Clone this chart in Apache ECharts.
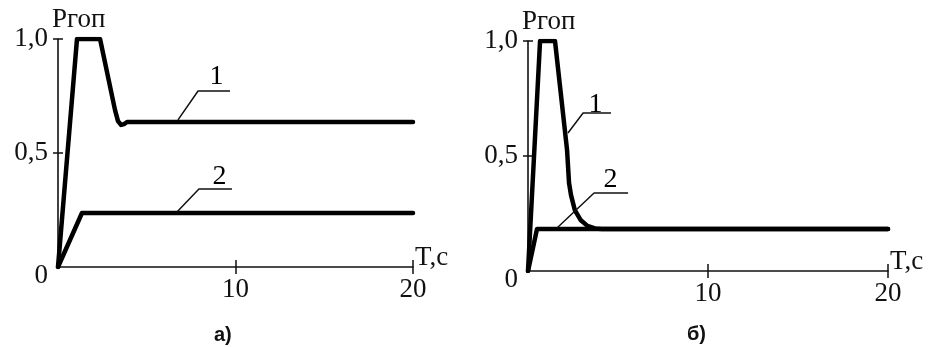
<!DOCTYPE html>
<html>
<head>
<meta charset="utf-8">
<script src="https://cdn.jsdelivr.net/npm/echarts@6/dist/echarts.min.js"></script>
<style>
html,body{margin:0;padding:0;background:#fff;}
#c{width:935px;height:347px;}
</style>
</head>
<body>
<div id="c"></div>
<script>
// ---- data (panel a) ----
const timeA1 = [0, 1.07, 2.37, 3.21, 3.38, 3.55, 3.72, 3.89, 20];
const valA1  = [0, 1.0, 1.0, 0.689, 0.64, 0.623, 0.627, 0.636, 0.636];
const timeA2 = [0, 1.35, 20];
const valA2  = [0, 0.237, 0.237];
// ---- data (panel b) ----
const timeB1 = [0, 0.67, 1.5, 2.17, 2.28, 2.39, 2.6, 2.92, 3.3, 3.72, 4.1, 20];
const valB1  = [0, 1.0, 1.0, 0.526, 0.383, 0.33, 0.265, 0.222, 0.196, 0.185, 0.183, 0.183];
const timeB2 = [0, 0.5, 20];
const valB2  = [0, 0.183, 0.183];
// ---- tick labels ----
const xTicks = [10, 20];
const yLabelTicks = [0, 0.5, 1.0];
const yMarkTicks = [0.5, 1.0];
const yName = 'Pгоп';
const xName = 'T,c';
const captions = ['а)', 'б)'];
// ---- curve annotations (leader lines in data units) ----
const leaderA1 = [[6.76, 0.645], [7.89, 0.772], [9.69, 0.772]];
const leaderA2 = [[6.70, 0.241], [7.94, 0.342], [9.80, 0.342]];
const leaderB1 = [[2.22, 0.60], [3.06, 0.687], [4.61, 0.687]];
const leaderB2 = [[1.61, 0.187], [3.67, 0.339], [5.56, 0.339]];
const labelsA = [{name:'1', value:[8.96, 0.833]}, {name:'2', value:[9.13, 0.395]}];
const labelsB = [{name:'1', value:[3.78, 0.722]}, {name:'2', value:[4.61, 0.396]}];

const zip = (xs, ys) => xs.map((x, i) => [x, ys[i]]);
const SERIF = 'Liberation Serif';
const INK = '#111';
const FS = 27;

function mainX(gi) {
  return {
    type: 'value', gridIndex: gi, min: 0, max: 20, interval: 10, position: 'bottom',
    axisLine: {show: true, onZero: false, lineStyle: {color: INK, width: 1.6}},
    axisTick: {show: true, inside: false, length: 7, customValues: xTicks, lineStyle: {color: INK, width: 1.5}},
    axisLabel: {show: true, customValues: xTicks, margin: 9, color: INK, fontFamily: SERIF, fontSize: FS},
    splitLine: {show: false},
    name: xName, nameLocation: 'end', nameGap: 2,
    nameTextStyle: {color: INK, fontFamily: SERIF, fontSize: FS, align: 'left', verticalAlign: 'bottom', padding: [0, 0, -4, 0]}
  };
}
function overX(gi) {
  return {
    type: 'value', gridIndex: gi, min: 0, max: 20, interval: 10, position: 'bottom',
    axisLine: {show: false, onZero: false},
    axisTick: {show: true, inside: true, length: 7, customValues: xTicks, lineStyle: {color: INK, width: 1.5}},
    axisLabel: {show: false}, splitLine: {show: false}
  };
}
function mainY(gi) {
  return {
    type: 'value', gridIndex: gi, min: 0, max: 1, interval: 0.5, position: 'left',
    axisLine: {show: true, onZero: false, lineStyle: {color: INK, width: 1.6}},
    axisTick: {show: true, inside: false, length: 5, customValues: yMarkTicks, lineStyle: {color: INK, width: 1.5}},
    axisLabel: {show: true, customValues: yLabelTicks, margin: 10, color: INK, fontFamily: SERIF, fontSize: FS,
      formatter: v => v === 0 ? '{z|0}' : v.toFixed(1).replace('.', ','),
      rich: {z: {fontFamily: SERIF, fontSize: FS, color: INK, padding: [18, 0, 0, 0]}}},
    splitLine: {show: false},
    name: yName, nameLocation: 'end', nameGap: 6,
    nameTextStyle: {color: INK, fontFamily: SERIF, fontSize: FS, align: 'left', verticalAlign: 'bottom', padding: [0, 0, 0, -6]}
  };
}
function overY(gi) {
  return {
    type: 'value', gridIndex: gi, min: 0, max: 1, interval: 0.5, position: 'left',
    axisLine: {show: false, onZero: false},
    axisTick: {show: true, inside: true, length: 5, customValues: yMarkTicks, lineStyle: {color: INK, width: 1.5}},
    axisLabel: {show: false}, splitLine: {show: false}
  };
}
function curve(gi, xs, ys) {
  return {type: 'line', xAxisIndex: gi, yAxisIndex: gi, data: zip(xs, ys), symbol: 'none', animation: false,
    lineStyle: {color: '#000', width: 4.5, cap: 'round', join: 'round'}, z: 3};
}
function leader(gi, pts) {
  return {type: 'line', xAxisIndex: gi, yAxisIndex: gi, data: pts, symbol: 'none', animation: false,
    lineStyle: {color: INK, width: 1.5}, z: 4};
}
function tags(gi, items) {
  return {type: 'scatter', xAxisIndex: gi, yAxisIndex: gi, data: items, symbolSize: 1, animation: false,
    itemStyle: {color: '#fff', opacity: 1},
    label: {show: true, position: [0, 0], align: 'center', verticalAlign: 'middle', formatter: p => p.name,
      color: '#000', opacity: 1, textBorderWidth: 0, fontFamily: SERIF, fontSize: 28}, z: 5};
}

const chart = echarts.init(document.getElementById('c'), null, {renderer: 'canvas'});
chart.setOption({
  backgroundColor: '#fff',
  animation: false,
  title: [
    {text: captions[0], left: 209, top: 320, textStyle: {fontFamily: 'Liberation Sans', fontWeight: 'bold', fontSize: 20, color: INK}},
    {text: captions[1], left: 682, top: 319, textStyle: {fontFamily: 'Liberation Sans', fontWeight: 'bold', fontSize: 20, color: INK}}
  ],
  grid: [
    {left: 58, top: 39, width: 355, height: 228},
    {left: 528, top: 41, width: 360, height: 230}
  ],
  xAxis: [mainX(0), mainX(1), overX(0), overX(1)],
  yAxis: [mainY(0), mainY(1), overY(0), overY(1)],
  series: [
    curve(0, timeA1, valA1), curve(0, timeA2, valA2),
    curve(1, timeB1, valB1), curve(1, timeB2, valB2),
    leader(0, leaderA1), leader(0, leaderA2), leader(1, leaderB1), leader(1, leaderB2),
    tags(0, labelsA), tags(1, labelsB)
  ]
});
</script>
</body>
</html>
